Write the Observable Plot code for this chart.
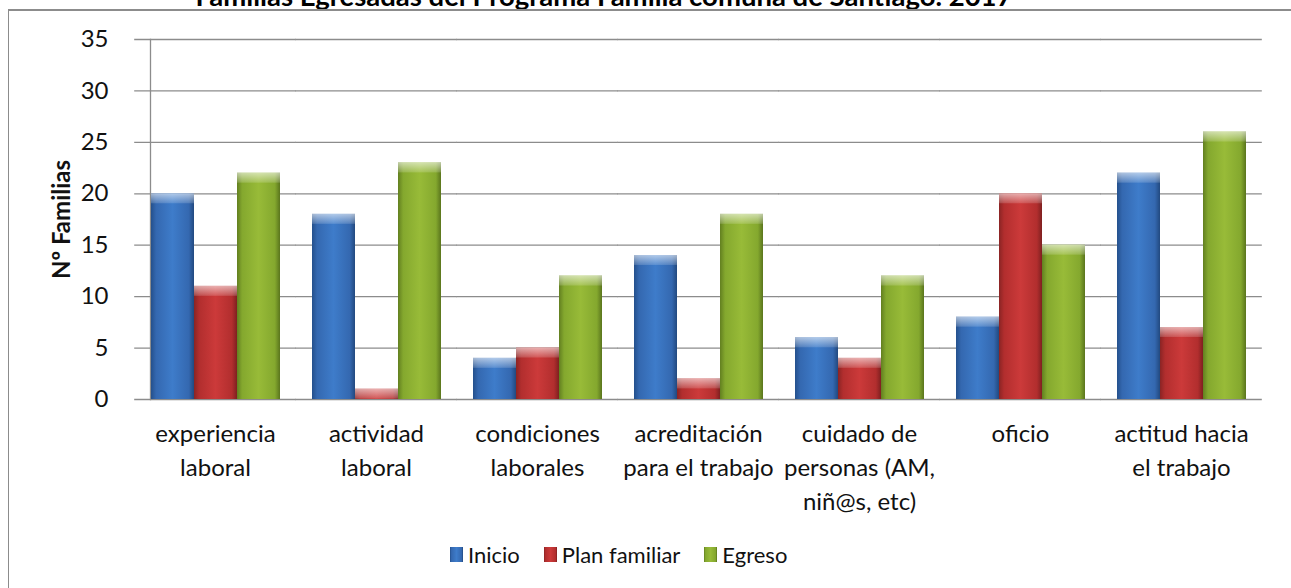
<!DOCTYPE html>
<html>
<head>
<meta charset="utf-8">
<script src="https://cdn.jsdelivr.net/npm/d3@7"></script>
<script src="https://cdn.jsdelivr.net/npm/@observablehq/plot@0.6"></script>
<style>
  html, body { margin: 0; padding: 0; background: #fff; width: 1291px; height: 588px; overflow: hidden; position: relative; font-family: Lato, "Open Sans", sans-serif; }
  #title { position: absolute; left: 0; width: 1208px; top: -18px; line-height: 27.5px; text-align: center; font-weight: bold; font-size: 27.5px; color: #000; white-space: nowrap; }
  #box { position: absolute; left: 8px; top: 9px; width: 1300px; height: 600px; border-top: 2px solid #8c8c8c; border-left: 1px solid #8c8c8c; box-sizing: border-box; }
  #chart { position: absolute; left: 0; top: 0; }
  #legend { position: absolute; left: 450px; top: 538px; }
  .lg-swatch { margin-right: 24px !important; }
  .lg-swatch > svg { margin-right: 5px !important; }
  [aria-label="y-axis label"] { font-weight: bold; }
</style>
</head>
<body>
<svg width="0" height="0" style="position:absolute">
  <defs>
    <linearGradient id="gInicio" x1="0" x2="1" y1="0" y2="0">
      <stop offset="0" stop-color="#24508c"/>
      <stop offset="0.12" stop-color="#3468b0"/>
      <stop offset="0.5" stop-color="#3e7cca"/>
      <stop offset="0.88" stop-color="#3468b0"/>
      <stop offset="1" stop-color="#22497f"/>
    </linearGradient>
    <linearGradient id="gPlan" x1="0" x2="1" y1="0" y2="0">
      <stop offset="0" stop-color="#8a2424"/>
      <stop offset="0.12" stop-color="#b22e2e"/>
      <stop offset="0.5" stop-color="#cc3a3a"/>
      <stop offset="0.88" stop-color="#b22e2e"/>
      <stop offset="1" stop-color="#7e2020"/>
    </linearGradient>
    <linearGradient id="gEgreso" x1="0" x2="1" y1="0" y2="0">
      <stop offset="0" stop-color="#627f20"/>
      <stop offset="0.12" stop-color="#84a82e"/>
      <stop offset="0.5" stop-color="#98bb38"/>
      <stop offset="0.88" stop-color="#84a82e"/>
      <stop offset="1" stop-color="#5a751d"/>
    </linearGradient>
    <linearGradient id="gCap" x1="0" x2="0" y1="0" y2="1">
      <stop offset="0" stop-color="#ffffff" stop-opacity="0.6"/>
      <stop offset="1" stop-color="#ffffff" stop-opacity="0.15"/>
    </linearGradient>
  </defs>
</svg>
<div id="title">Familias Egresadas del Programa Familia comuna de Santiago. 2017</div>
<div id="box"></div>
<div id="chart"></div>
<div id="legend"></div>
<script>
const categories = [
  "experiencia laboral",
  "actividad laboral",
  "condiciones laborales",
  "acreditación para el trabajo",
  "cuidado de personas (AM, niñ@s, etc)",
  "oficio",
  "actitud hacia el trabajo"
];
const categoryLabels = [
  "experiencia\nlaboral",
  "actividad\nlaboral",
  "condiciones\nlaborales",
  "acreditación\npara el trabajo",
  "cuidado de\npersonas (AM,\nniñ@s, etc)",
  "oficio",
  "actitud hacia\nel trabajo"
];
const series = ["Inicio", "Plan familiar", "Egreso"];
const inicio = [20, 18, 4, 14, 6, 8, 22];
const planFamiliar = [11, 1, 5, 2, 4, 20, 7];
const egreso = [22, 23, 12, 18, 12, 15, 26];
const yTicks = [0, 5, 10, 15, 20, 25, 30, 35];
const yLabel = "Nº Familias";
const fills = ["url(#gInicio)", "url(#gPlan)", "url(#gEgreso)"];

const valuesBySeries = [inicio, planFamiliar, egreso];
const data = [];
categories.forEach((c, i) => {
  series.forEach((s, k) => data.push({category: c, series: s, value: valuesBySeries[k][i]}));
});
const labelOf = new Map(categories.map((c, i) => [c, categoryLabels[i]]));

const W = 1291, ML = 134, MR = 29;
const padInner = 0.19, padOuter = 0.095;
// half of the gap between facets, so grid lines run continuously across facets
const halfGap = (W - ML - MR) / (categories.length - padInner + 2 * padOuter) * padOuter + 0.5;

const chart = Plot.plot({
  width: W,
  height: 530,
  marginLeft: ML,
  marginRight: MR,
  marginTop: 39,
  marginBottom: 131,
  style: {fontFamily: "Lato, 'Open Sans', sans-serif", fontSize: "24px", color: "#111", background: "transparent"},
  fx: {domain: categories, paddingInner: padInner, paddingOuter: padOuter, axis: null},
  x: {domain: series, padding: 0, axis: null},
  y: {domain: [0, 35], axis: null},
  color: {domain: series, range: fills},
  marks: [
    Plot.ruleY(yTicks, {stroke: "#8c8c8c", strokeWidth: 1.3, insetLeft: -halfGap, insetRight: -halfGap}),
    Plot.frame({anchor: "left", facet: "super", stroke: "#8c8c8c", strokeWidth: 1.3}),
    Plot.barY(data, {fx: "category", x: "series", y: "value", fill: "series"}),
    Plot.barY(data, {fx: "category", x: "series", y1: "value", y2: "value", insetBottom: -10, fill: "url(#gCap)"}),
    Plot.axisY({ticks: yTicks, tickSize: 0, tickPadding: 42, fontSize: 24, label: yLabel, labelAnchor: "center", labelOffset: 98, labelArrow: "none"}),
    Plot.axisFx({anchor: "bottom", tickSize: 0, tickPadding: 19, fontSize: 24, lineHeight: 1.4, tickFormat: d => labelOf.get(d), label: null})
  ]
});
document.getElementById("chart").appendChild(chart);

const legend = Plot.legend({
  color: {type: "ordinal", domain: series, range: fills},
  swatchWidth: 13,
  swatchHeight: 15,
  className: "lg",
  style: {fontFamily: "Lato, 'Open Sans', sans-serif", fontSize: "22px", color: "#111"}
});
document.getElementById("legend").appendChild(legend);
</script>
</body>
</html>
